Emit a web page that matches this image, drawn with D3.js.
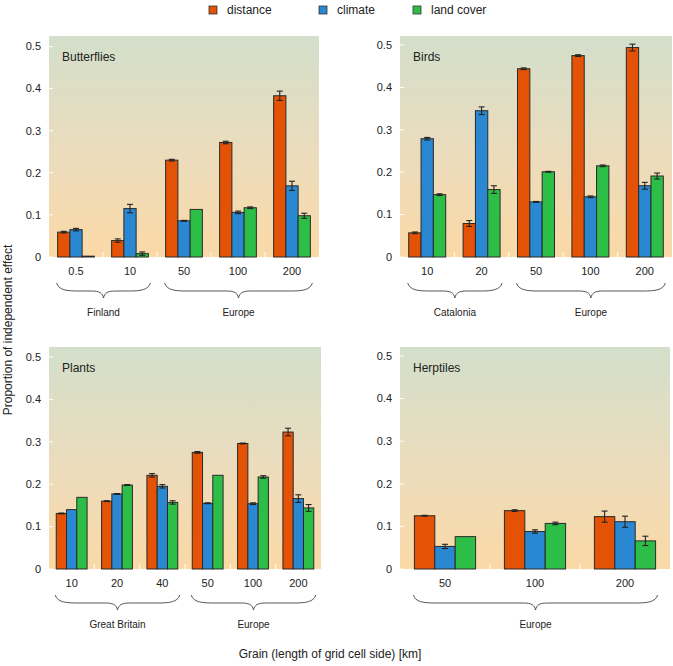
<!DOCTYPE html>
<html><head><meta charset="utf-8">
<script src="https://cdn.jsdelivr.net/npm/d3@7"></script>
<style>body{margin:0;background:#fff}svg{display:block;font-family:"Liberation Sans",Arial,sans-serif}</style>
</head><body>
<svg id="chart" width="673" height="666"></svg>
<script>
// ---- data ----
const seriesNames = ["distance", "climate", "land cover"];
const seriesColors = ["#e35205", "#2a88d2", "#2dbe48"];
const yTicks = [0, 0.1, 0.2, 0.3, 0.4, 0.5];
const yTickLabels = ["0", "0.1", "0.2", "0.3", "0.4", "0.5"];

const butterflyGrains = ["0.5", "10", "50", "100", "200"];
const butterflyDistance = [0.059, 0.039, 0.230, 0.272, 0.383];
const butterflyDistanceErr = [0.002, 0.004, 0.002, 0.003, 0.011];
const butterflyClimate = [0.065, 0.115, 0.086, 0.106, 0.169];
const butterflyClimateErr = [0.003, 0.010, 0.001, 0.003, 0.011];
const butterflyLand = [0.002, 0.008, 0.113, 0.117, 0.098];
const butterflyLandErr = [0, 0.004, 0, 0.002, 0.006];
const butterflyRegions = [["Finland", 0, 1], ["Europe", 2, 4]];

const birdGrains = ["10", "20", "50", "100", "200"];
const birdDistance = [0.057, 0.079, 0.444, 0.475, 0.494];
const birdDistanceErr = [0.002, 0.007, 0.002, 0.002, 0.008];
const birdClimate = [0.279, 0.345, 0.130, 0.142, 0.168];
const birdClimateErr = [0.003, 0.009, 0.001, 0.002, 0.008];
const birdLand = [0.147, 0.159, 0.201, 0.215, 0.191];
const birdLandErr = [0.002, 0.009, 0.001, 0.002, 0.007];
const birdRegions = [["Catalonia", 0, 1], ["Europe", 2, 4]];

const plantGrains = ["10", "20", "40", "50", "100", "200"];
const plantDistance = [0.131, 0.160, 0.221, 0.275, 0.296, 0.323];
const plantDistanceErr = [0.001, 0.001, 0.004, 0.002, 0.001, 0.009];
const plantClimate = [0.140, 0.177, 0.195, 0.155, 0.154, 0.166];
const plantClimateErr = [0, 0.001, 0.004, 0.001, 0.002, 0.009];
const plantLand = [0.169, 0.198, 0.157, 0.221, 0.217, 0.144];
const plantLandErr = [0, 0.001, 0.004, 0, 0.003, 0.008];
const plantRegions = [["Great Britain", 0, 2], ["Europe", 3, 5]];

const herpGrains = ["50", "100", "200"];
const herpDistance = [0.125, 0.137, 0.123];
const herpDistanceErr = [0.001, 0.002, 0.013];
const herpClimate = [0.053, 0.088, 0.111];
const herpClimateErr = [0.005, 0.004, 0.013];
const herpLand = [0.076, 0.107, 0.066];
const herpLandErr = [0, 0.003, 0.011];
const herpRegions = [["Europe", 0, 2]];

const panels = [
  {title: "Butterflies", grains: butterflyGrains, vals: [butterflyDistance, butterflyClimate, butterflyLand],
   errs: [butterflyDistanceErr, butterflyClimateErr, butterflyLandErr], regions: butterflyRegions,
   x0: 49, x1: 319, top: 36, base: 257, y05: 46.5},
  {title: "Birds", grains: birdGrains, vals: [birdDistance, birdClimate, birdLand],
   errs: [birdDistanceErr, birdClimateErr, birdLandErr], regions: birdRegions,
   x0: 400, x1: 672, top: 36, base: 257, y05: 45},
  {title: "Plants", grains: plantGrains, vals: [plantDistance, plantClimate, plantLand],
   errs: [plantDistanceErr, plantClimateErr, plantLandErr], regions: plantRegions,
   x0: 49, x1: 321, top: 347, base: 569, y05: 357},
  {title: "Herptiles", grains: herpGrains, vals: [herpDistance, herpClimate, herpLand],
   errs: [herpDistanceErr, herpClimateErr, herpLandErr], regions: herpRegions,
   x0: 400, x1: 670, top: 347, base: 569, y05: 356}
];

const svg = d3.select("#chart");
const defs = svg.append("defs");
const grad = defs.append("linearGradient").attr("id", "bg").attr("x1", 0).attr("y1", 0).attr("x2", 0).attr("y2", 1);
grad.append("stop").attr("offset", "0%").attr("stop-color", "#d3dfcb");
grad.append("stop").attr("offset", "55%").attr("stop-color", "#ecdcbc");
grad.append("stop").attr("offset", "100%").attr("stop-color", "#fbd9a6");

function bracePath(xa, xb, y0) {
  const xm = (xa + xb) / 2, hm = 8, h = 15;
  return `M${xa},${y0} C${xa + 2},${y0 + hm - 1} ${xa + 10},${y0 + hm} ${xa + 22},${y0 + hm}` +
    ` L${xm - 12},${y0 + hm} C${xm - 4},${y0 + hm} ${xm - 1},${y0 + hm + 2} ${xm},${y0 + h}` +
    ` C${xm + 1},${y0 + hm + 2} ${xm + 4},${y0 + hm} ${xm + 12},${y0 + hm}` +
    ` L${xb - 22},${y0 + hm} C${xb - 10},${y0 + hm} ${xb - 2},${y0 + hm - 1} ${xb},${y0}`;
}

panels.forEach(p => {
  const g = svg.append("g");
  const y = d3.scaleLinear().domain([0, 0.5]).range([p.base, p.y05]);
  const x = d3.scaleBand().domain(p.grains).range([p.x0, p.x1]).paddingInner(0.32).paddingOuter(0.16);
  const xs = d3.scaleBand().domain(seriesNames).range([0, x.bandwidth()]);

  g.append("rect").attr("x", p.x0).attr("y", p.top).attr("width", p.x1 - p.x0).attr("height", p.base - p.top)
    .attr("fill", "url(#bg)");

  // white inner ticks on left edge
  g.selectAll(".yt").data(yTicks).join("line")
    .attr("x1", p.x0).attr("x2", p.x0 + 4).attr("y1", d => y(d)).attr("y2", d => y(d))
    .attr("stroke", "#fff").attr("stroke-width", 1);
  // white separator ticks on baseline
  const seps = p.grains.slice(1).map((gr, i) => (x(p.grains[i]) + x.bandwidth() + x(gr)) / 2);
  g.selectAll(".xs").data(seps).join("line")
    .attr("x1", d => d).attr("x2", d => d).attr("y1", p.base).attr("y2", p.base - 5)
    .attr("stroke", "#fff").attr("stroke-width", 1);

  // y labels
  g.selectAll(".yl").data(yTicks).join("text")
    .attr("x", p.x0 - 8).attr("y", d => y(d)).attr("dy", "0.35em").attr("text-anchor", "end")
    .attr("font-size", 11).attr("fill", "#222").text((d, i) => yTickLabels[i]);

  // bars
  const rows = [];
  p.grains.forEach((gr, i) => seriesNames.forEach((s, k) => rows.push({gr, s, k, v: p.vals[k][i], e: p.errs[k][i]})));
  g.selectAll(".bar").data(rows).join("rect")
    .attr("x", d => x(d.gr) + xs(d.s)).attr("width", xs.bandwidth())
    .attr("y", d => y(d.v)).attr("height", d => y(0) - y(d.v))
    .attr("fill", d => seriesColors[d.k]).attr("stroke", "#2a2a2a").attr("stroke-width", 1);

  // error bars
  const eb = rows.filter(d => d.e > 0);
  const ebg = g.selectAll(".eb").data(eb).join("g").attr("stroke", "#222").attr("stroke-width", 1.1);
  ebg.append("line").attr("x1", d => x(d.gr) + xs(d.s) + xs.bandwidth() / 2).attr("x2", d => x(d.gr) + xs(d.s) + xs.bandwidth() / 2)
    .attr("y1", d => y(d.v - d.e)).attr("y2", d => y(d.v + d.e));
  ebg.append("line").attr("x1", d => x(d.gr) + xs(d.s) + xs.bandwidth() / 2 - 3).attr("x2", d => x(d.gr) + xs(d.s) + xs.bandwidth() / 2 + 3)
    .attr("y1", d => y(d.v + d.e)).attr("y2", d => y(d.v + d.e));
  ebg.append("line").attr("x1", d => x(d.gr) + xs(d.s) + xs.bandwidth() / 2 - 3).attr("x2", d => x(d.gr) + xs(d.s) + xs.bandwidth() / 2 + 3)
    .attr("y1", d => y(d.v - d.e)).attr("y2", d => y(d.v - d.e));

  // x labels
  g.selectAll(".xl").data(p.grains).join("text")
    .attr("x", d => x(d) + x.bandwidth() / 2).attr("y", p.base + 18).attr("text-anchor", "middle")
    .attr("font-size", 11).attr("fill", "#222").text(d => d);

  // braces
  p.regions.forEach(r => {
    const xa = x(p.grains[r[1]]) - 1, xb = x(p.grains[r[2]]) + x.bandwidth() + 2;
    g.append("path").attr("d", bracePath(xa, xb, p.base + 26)).attr("fill", "none")
      .attr("stroke", "#444").attr("stroke-width", 0.9);
    g.append("text").attr("x", (xa + xb) / 2).attr("y", p.base + 59).attr("text-anchor", "middle")
      .attr("font-size", 10).attr("fill", "#222").text(r[0]);
  });

  // title
  g.append("text").attr("x", p.x0 + 13).attr("y", p.top + 25).attr("font-size", 12).attr("fill", "#222").text(p.title);
});

// legend
const legendX = [209, 319, 413];
const lg = svg.append("g");
seriesNames.forEach((s, i) => {
  lg.append("rect").attr("x", legendX[i]).attr("y", 6).attr("width", 8).attr("height", 8)
    .attr("fill", seriesColors[i]).attr("stroke", "#333").attr("stroke-width", 0.8);
  lg.append("text").attr("x", legendX[i] + 18).attr("y", 14).attr("font-size", 12).attr("fill", "#222").text(s);
});

// axis titles
svg.append("text").attr("transform", "translate(12,330) rotate(-90)").attr("text-anchor", "middle")
  .attr("font-size", 12).attr("fill", "#222").text("Proportion of independent effect");
svg.append("text").attr("x", 330).attr("y", 658).attr("text-anchor", "middle")
  .attr("font-size", 12).attr("fill", "#222").text("Grain (length of grid cell side) [km]");
</script>
</body></html>
